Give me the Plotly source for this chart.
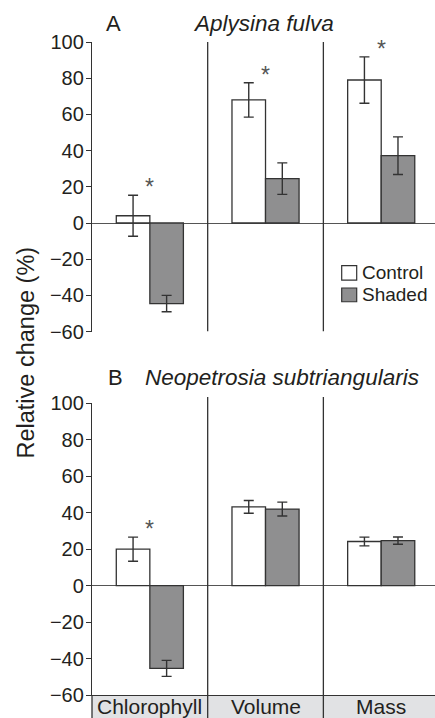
import plotly.graph_objects as go

# ---- data ----
categories = ["Chlorophyll", "Volume", "Mass"]
series_names = ["Control", "Shaded"]

a_control = [4, 68, 79]
a_control_err = [11.3, 9.5, 12.8]
a_shaded = [-44.5, 24.5, 37.2]
a_shaded_err = [4.5, 8.7, 10.4]
a_sig = [True, True, True]

b_control = [20, 43.2, 24.2]
b_control_err = [6.6, 3.5, 2.4]
b_shaded = [-45.4, 42, 24.7]
b_shaded_err = [4.4, 3.8, 2.0]
b_sig = [True, False, False]

y_ticks = [-60, -40, -20, 0, 20, 40, 60, 80, 100]

title_a = ("A", "Aplysina fulva")
title_b = ("B", "Neopetrosia subtriangularis")
y_title = "Relative change (%)"

# ---- style ----
FONT = "Liberation Sans, Arial, sans-serif"
TXT = "#231f20"
DARK = "#333333"
GRAY = "#8f8f90"
BAND = "#e1e2e4"
W, H = 435, 718
L = 92

fig = go.Figure()

def add_bars(ctrl, ctrl_err, shd, shd_err, xa, ya):
    for name, vals, errs, col in [(series_names[0], ctrl, ctrl_err, "white"),
                                  (series_names[1], shd, shd_err, GRAY)]:
        fig.add_trace(go.Bar(
            x=categories, y=vals, name=name, xaxis=xa, yaxis=ya,
            marker=dict(color=col, line=dict(color=DARK, width=1.3)),
            error_y=dict(type="data", array=errs, visible=True,
                         color=DARK, thickness=1.4, width=5),
            showlegend=False,
        ))

add_bars(a_control, a_control_err, a_shaded, a_shaded_err, "x", "y")
add_bars(b_control, b_control_err, b_shaded, b_shaded_err, "x2", "y2")

xrange = [-0.5, 2.465]
top_dom = [1 - 331.6 / H, 1 - 42 / H]
bot_dom = [1 - 695 / H, 1 - 403.3 / H]

yax = dict(range=[-60, 100], tickvals=y_ticks, showgrid=False, automargin=False,
           showline=True, linecolor=DARK, linewidth=1.3,
           ticks="outside", ticklen=5, tickcolor=DARK, tickwidth=1.2,
           tickfont=dict(family=FONT, size=20, color=TXT),
           zeroline=True, zerolinecolor="#555555", zerolinewidth=1.1,
           ticklabelstandoff=-2)

fig.update_layout(
    template="none",
    width=W, height=H,
    margin=dict(l=L, r=0, t=0, b=0, pad=0),
    plot_bgcolor="white", paper_bgcolor="white",
    barmode="group", bargap=0.42, bargroupgap=0,
    showlegend=False,
    xaxis=dict(domain=[0, 1], anchor="y", range=xrange, showticklabels=False, automargin=False,
               showgrid=False, showline=False, zeroline=False, ticks=""),
    xaxis2=dict(domain=[0, 1], anchor="y2", range=xrange, showticklabels=False, automargin=False,
                showgrid=False, showline=True, linecolor=DARK, linewidth=1.3,
                zeroline=False, ticks=""),
    yaxis=dict(domain=top_dom, anchor="x", **yax),
    yaxis2=dict(domain=bot_dom, anchor="x2", **yax),
)

shapes = []
for b in [0.5, 1.5]:
    shapes.append(dict(type="line", xref="x", yref="y", x0=b, x1=b, y0=-60, y1=102,
                       line=dict(color=DARK, width=1.3)))
    shapes.append(dict(type="line", xref="x2", yref="paper", x0=b, x1=b, y0=0, y1=1 - 397 / H,
                       line=dict(color=DARK, width=1.3)))
shapes.append(dict(type="rect", xref="x2 domain", yref="paper", x0=0, x1=1, y0=0, y1=bot_dom[0],
                   fillcolor=BAND, line=dict(width=0), layer="below"))
shapes.append(dict(type="line", xref="x2 domain", yref="paper", x0=0, x1=0, y0=0, y1=bot_dom[0],
                   line=dict(color=DARK, width=1.3)))
leg_x0, leg_x1 = (341.7 - L) / (W - L), (356.7 - L) / (W - L)
for (y0, y1, col) in [(0.178, 0.2276, "white"), (0.103, 0.1506, GRAY)]:
    shapes.append(dict(type="rect", xref="x domain", yref="y domain", x0=leg_x0, x1=leg_x1,
                       y0=y0, y1=y1, fillcolor=col, line=dict(color=DARK, width=1.2)))
fig.update_layout(shapes=shapes)

ann = []
def txt(text, x, y, size, xref="paper", yref="paper", italic=False, xanchor="center",
        yanchor="middle", color=TXT, angle=0):
    ann.append(dict(text=f"<i>{text}</i>" if italic else text, x=x, y=y, xref=xref, yref=yref,
                    showarrow=False, xanchor=xanchor, yanchor=yanchor, textangle=angle,
                    font=dict(family=FONT, size=size, color=color)))

px = lambda p: (p - L) / (W - L)
py = lambda p: 1 - p / H

txt(title_a[0], px(113), py(23.5), 22)
txt(title_a[1], px(263), py(23.5), 22.5, italic=True)
txt(title_b[0], px(115), py(377.5), 22)
txt(title_b[1], px(282.3), py(377.5), 22.5, italic=True)
txt(y_title, px(25), py(352.5), 23.5, angle=-90)

txt(series_names[0], px(360), 0.203, 19, xref="x domain", yref="y domain", xanchor="left")
txt(series_names[1], px(360), 0.127, 19, xref="x domain", yref="y domain", xanchor="left")

for c in categories:
    txt(c, c, py(706.7), 21, xref="x2")

for sig, vals, errs, yr in [(a_sig, a_control, a_control_err, "y"), (b_sig, b_control, b_control_err, "y2")]:
    for c, s, v, e in zip(categories, sig, vals, errs):
        if s:
            ann.append(dict(text="*", x=c, y=v + e, xref="x" if yr == "y" else "x2", yref=yr,
                            showarrow=False, xanchor="center", yanchor="bottom", yshift=-7,
                            font=dict(family=FONT, size=23, color="#555555")))

fig.update_layout(annotations=ann)
fig.write_html("out.html", config={"displayModeBar": False},
               post_script="document.body.style.margin='0';")
